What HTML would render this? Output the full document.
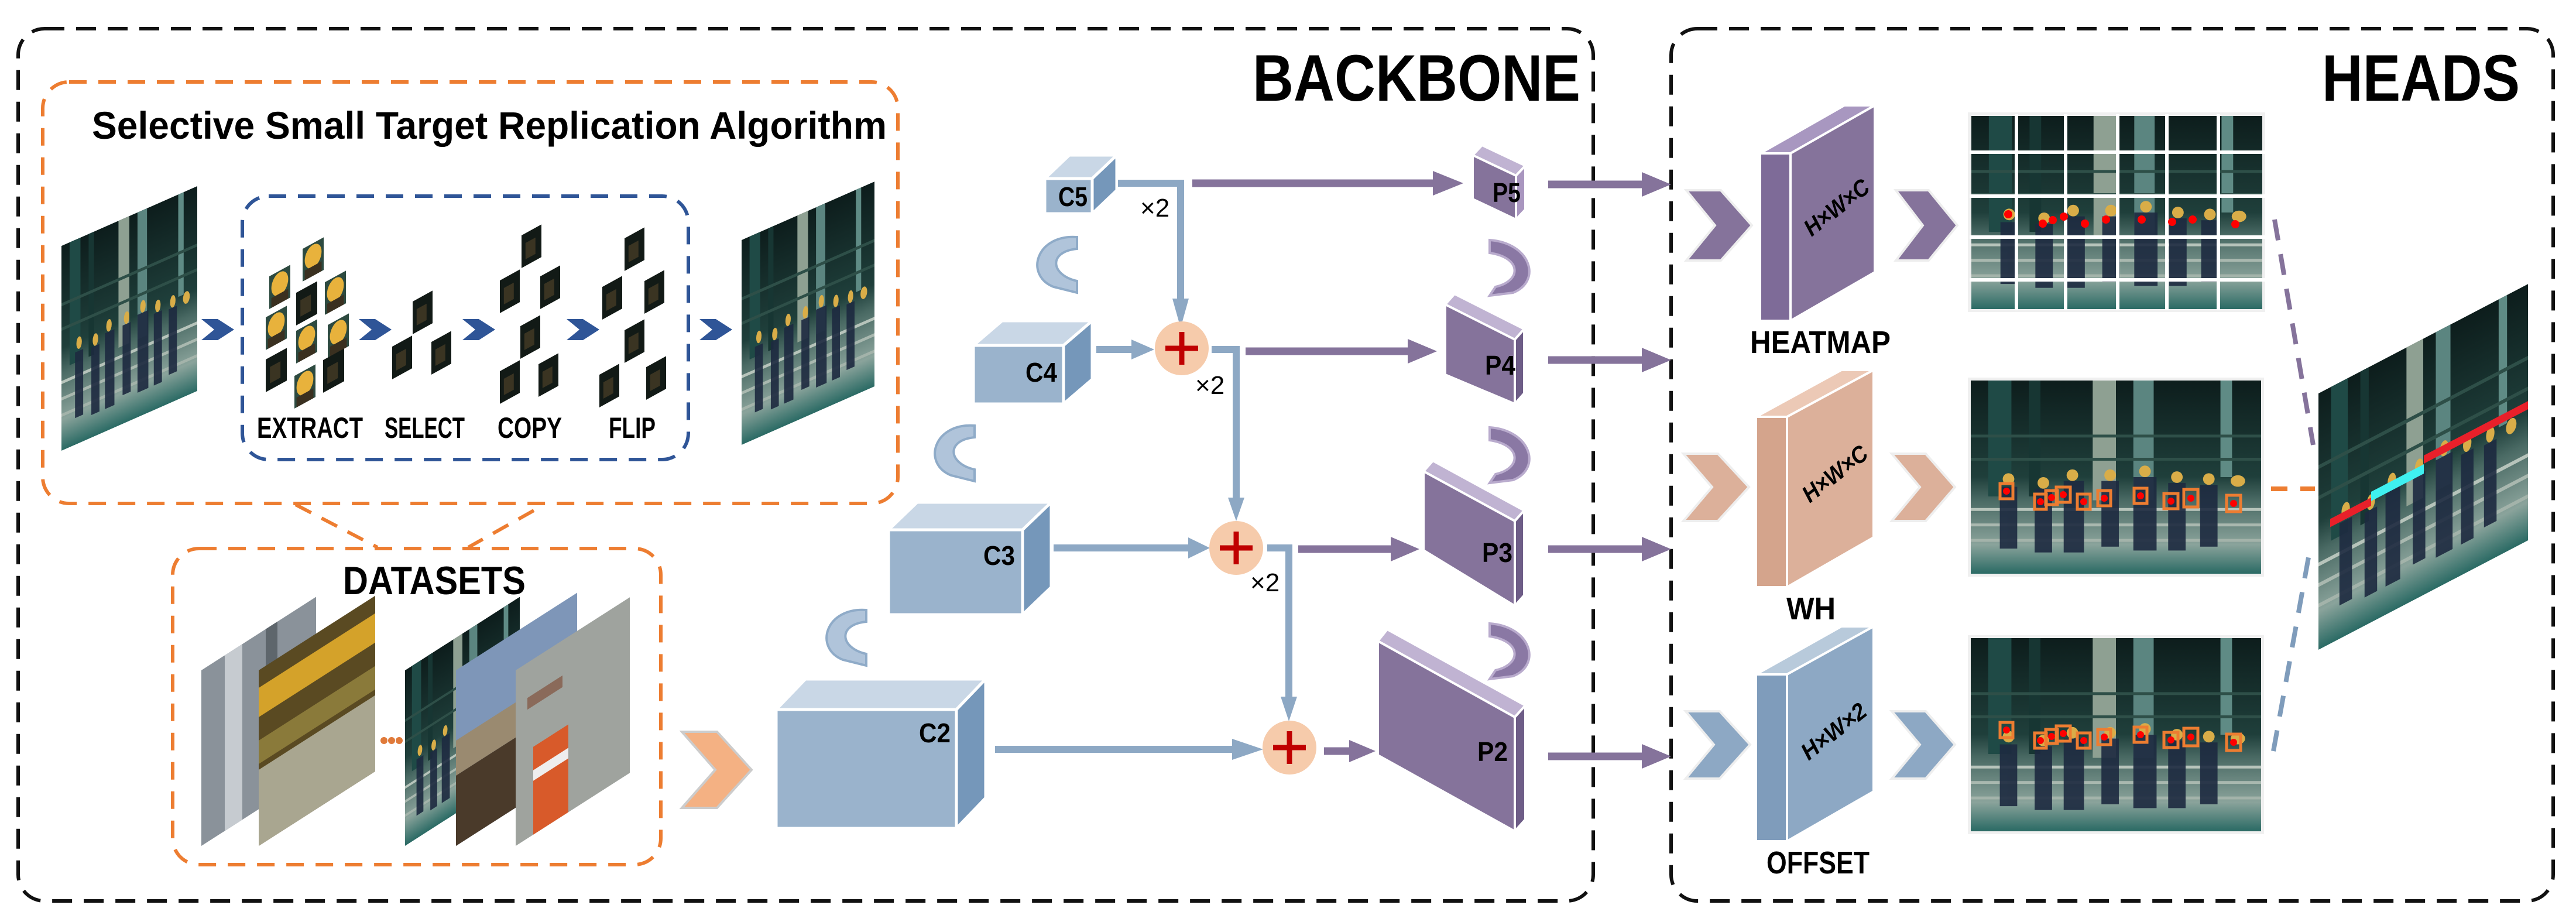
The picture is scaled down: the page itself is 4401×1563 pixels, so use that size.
<!DOCTYPE html>
<html><head><meta charset="utf-8"><style>
html,body{margin:0;padding:0;background:#fff;}
svg{display:block;}
text{font-family:"Liberation Sans",sans-serif;font-weight:bold;fill:#000;}
</style></head><body>
<svg width="4401" height="1563" viewBox="0 0 4401 1563" xmlns="http://www.w3.org/2000/svg">
<defs>
<linearGradient id="bg" x1="0" y1="0" x2="0" y2="1">
<stop offset="0" stop-color="#0d1d1c"/><stop offset="0.5" stop-color="#1f3f3b"/><stop offset="0.62" stop-color="#4a6a64"/><stop offset="0.85" stop-color="#8aa39b"/><stop offset="1" stop-color="#2a6a64"/>
</linearGradient>
<symbol id="scene" viewBox="0 0 100 100" preserveAspectRatio="none">
<rect width="100" height="100" fill="url(#bg)"/>
<rect x="6" y="0" width="8" height="60" fill="#1f4a46"/>
<rect x="20" y="0" width="4" height="60" fill="#173633"/>
<rect x="42" y="0" width="8" height="62" fill="#8ea092"/>
<rect x="56" y="0" width="7" height="62" fill="#5b8580"/>
<rect x="86" y="0" width="4" height="50" fill="#5f8b85"/>
<rect x="0" y="28" width="100" height="1.5" fill="#2e4f48"/>
<rect x="0" y="40" width="100" height="1.5" fill="#2e4f48"/>
<rect x="0" y="66" width="100" height="1.5" fill="#b7c4bb"/>
<rect x="0" y="74" width="100" height="1.5" fill="#a9b8af"/>
<rect x="0" y="82" width="100" height="1.5" fill="#a3b3aa"/>
<g fill="#1d2a40" opacity="0.9">
<rect x="10" y="55" width="6" height="32"/><rect x="22" y="56" width="6" height="33"/><rect x="32" y="52" width="7" height="37"/><rect x="45" y="52" width="6" height="34"/><rect x="56" y="50" width="8" height="38"/><rect x="68" y="53" width="6" height="35"/><rect x="79" y="54" width="6" height="32"/>
</g>
<g fill="#d9ad48">
<ellipse cx="13" cy="51" rx="2" ry="3"/><ellipse cx="25" cy="53" rx="2" ry="3"/><ellipse cx="35" cy="49" rx="2" ry="3"/><ellipse cx="48" cy="49" rx="2" ry="3"/><ellipse cx="60" cy="47" rx="2" ry="3"/><ellipse cx="71" cy="50" rx="2" ry="3"/><ellipse cx="82" cy="51" rx="2" ry="3"/><ellipse cx="92" cy="52" rx="2.5" ry="3"/>
</g>
</symbol>
<symbol id="tile" viewBox="0 0 10 10" preserveAspectRatio="none">
<rect width="10" height="10" fill="#121a16"/><rect x="2" y="3" width="5" height="5" fill="#3a3422"/>
</symbol>
<symbol id="tiley" viewBox="0 0 10 10" preserveAspectRatio="none">
<rect width="10" height="10" fill="#2d4a40"/><ellipse cx="5" cy="4" rx="4" ry="3.5" fill="#e8b23c"/><rect x="1" y="7" width="8" height="3" fill="#3a3020"/>
</symbol>
</defs>

<rect x="31" y="49" width="2691" height="1490" rx="45" fill="none" stroke="#111" stroke-width="6" stroke-dasharray="34,20"/>
<rect x="2855" y="49" width="1507" height="1490" rx="45" fill="none" stroke="#111" stroke-width="6" stroke-dasharray="34,20"/>
<text x="2700" y="172" font-size="112" text-anchor="end" textLength="560" lengthAdjust="spacingAndGlyphs">BACKBONE</text>
<text x="4305" y="172" font-size="112" text-anchor="end" textLength="338" lengthAdjust="spacingAndGlyphs">HEADS</text>

<rect x="73" y="140" width="1461" height="720" rx="45" fill="none" stroke="#ed7d31" stroke-width="6" stroke-dasharray="30,20"/>
<text x="157" y="237" font-size="66" textLength="1358" lengthAdjust="spacingAndGlyphs">Selective Small Target Replication Algorithm</text>
<rect x="414" y="335" width="762" height="450" rx="45" fill="none" stroke="#2f5597" stroke-width="6" stroke-dasharray="30,20"/>

<use href="#scene" width="232" height="350" transform="matrix(1,-0.44,0,1,105,420)"/>
<use href="#scene" width="227" height="350" transform="matrix(1,-0.44,0,1,1267,410)"/>

<g fill="#2f5597">
<polygon points="344,545 372,545 400,563 372,581 344,581 366,563"/>
<polygon points="613,545 641,545 669,563 641,581 613,581 635,563"/>
<polygon points="790,545 818,545 846,563 818,581 790,581 812,563"/>
<polygon points="968,545 996,545 1024,563 996,581 968,581 990,563"/>
<polygon points="1195,545 1223,545 1251,563 1223,581 1195,581 1217,563"/>
</g>
<g>
<use href="#tiley" width="36" height="56" transform="matrix(1,-0.55,0,1,517,425)"/>
<use href="#tiley" width="36" height="56" transform="matrix(1,-0.55,0,1,460,472)"/>
<use href="#tiley" width="36" height="56" transform="matrix(1,-0.55,0,1,555,482)"/>
<use href="#tile" width="36" height="56" transform="matrix(1,-0.55,0,1,506,500)"/>
<use href="#tiley" width="36" height="56" transform="matrix(1,-0.55,0,1,454,542)"/>
<use href="#tiley" width="36" height="56" transform="matrix(1,-0.55,0,1,506,565)"/>
<use href="#tiley" width="36" height="56" transform="matrix(1,-0.55,0,1,560,555)"/>
<use href="#tile" width="36" height="56" transform="matrix(1,-0.55,0,1,454,614)"/>
<use href="#tile" width="36" height="56" transform="matrix(1,-0.55,0,1,552,615)"/>
<use href="#tiley" width="36" height="56" transform="matrix(1,-0.55,0,1,503,642)"/>
<use href="#tile" width="34" height="56" transform="matrix(1,-0.55,0,1,705,515)"/>
<use href="#tile" width="34" height="56" transform="matrix(1,-0.55,0,1,670,592)"/>
<use href="#tile" width="34" height="56" transform="matrix(1,-0.55,0,1,737,584)"/>
<use href="#tile" width="34" height="56" transform="matrix(1,-0.55,0,1,891,402)"/>
<use href="#tile" width="34" height="56" transform="matrix(1,-0.55,0,1,854,479)"/>
<use href="#tile" width="34" height="56" transform="matrix(1,-0.55,0,1,923,472)"/>
<use href="#tile" width="34" height="56" transform="matrix(1,-0.55,0,1,889,557)"/>
<use href="#tile" width="34" height="56" transform="matrix(1,-0.55,0,1,854,634)"/>
<use href="#tile" width="34" height="56" transform="matrix(1,-0.55,0,1,920,622)"/>
<use href="#tile" width="34" height="56" transform="matrix(1,-0.55,0,1,1067,407)"/>
<use href="#tile" width="34" height="56" transform="matrix(1,-0.55,0,1,1029,490)"/>
<use href="#tile" width="34" height="56" transform="matrix(1,-0.55,0,1,1101,480)"/>
<use href="#tile" width="34" height="56" transform="matrix(1,-0.55,0,1,1067,564)"/>
<use href="#tile" width="34" height="56" transform="matrix(1,-0.55,0,1,1024,640)"/>
<use href="#tile" width="34" height="56" transform="matrix(1,-0.55,0,1,1104,627)"/>
</g>
<g font-size="50">
<text x="439" y="748" textLength="181" lengthAdjust="spacingAndGlyphs">EXTRACT</text>
<text x="657" y="748" textLength="137" lengthAdjust="spacingAndGlyphs">SELECT</text>
<text x="850" y="748" textLength="110" lengthAdjust="spacingAndGlyphs">COPY</text>
<text x="1040" y="748" textLength="80" lengthAdjust="spacingAndGlyphs">FLIP</text>
</g>

<line x1="505" y1="862" x2="645" y2="935" stroke="#ed7d31" stroke-width="6" stroke-dasharray="30,20"/>
<line x1="912" y1="872" x2="800" y2="935" stroke="#ed7d31" stroke-width="6" stroke-dasharray="30,20"/>
<rect x="295" y="937" width="834" height="540" rx="45" fill="none" stroke="#ed7d31" stroke-width="6" stroke-dasharray="30,20"/>
<text x="586" y="1015" font-size="68" textLength="312" lengthAdjust="spacingAndGlyphs">DATASETS</text>
<g transform="matrix(1,-0.64,0,1,344,1145)"><rect width="196" height="300" fill="#8a929a"/><rect x="40" y="0" width="30" height="300" fill="#c6cbd0"/><rect x="110" y="0" width="20" height="300" fill="#5e666c"/></g>
<g transform="matrix(1,-0.64,0,1,442,1145)"><rect width="199" height="300" fill="#5a4a22"/><rect y="30" width="199" height="50" fill="#d4a22a"/><rect y="120" width="199" height="40" fill="#8a7a3a"/><rect y="170" width="199" height="130" fill="#a9a690"/></g>
<g fill="#e07a3a"><circle cx="656" cy="1265" r="6"/><circle cx="669" cy="1265" r="6"/><circle cx="682" cy="1265" r="6"/></g>
<use href="#scene" width="196" height="300" transform="matrix(1,-0.64,0,1,692,1145)"/>
<g transform="matrix(1,-0.64,0,1,779,1145)"><rect width="207" height="300" fill="#7e96b8"/><rect y="120" width="207" height="60" fill="#9a8a70"/><rect y="180" width="207" height="120" fill="#4a3a2a"/></g>
<g transform="matrix(1,-0.64,0,1,881,1145)"><rect width="195" height="300" fill="#9fa39e"/><rect x="20" y="60" width="60" height="20" fill="#8a6a5a"/><rect x="30" y="150" width="60" height="150" fill="#d85a2a"/><rect x="30" y="190" width="60" height="18" fill="#eee"/></g>

<polygon points="1165,1250 1225,1250 1284,1315 1225,1380 1165,1380 1222,1315" fill="#f4b183" stroke="#ccc" stroke-width="4"/>

<g fill="#b0c4da" stroke="#8fabc8" stroke-width="4">
<path d="M1840,405 C1770,400 1750,470 1800,490 L1840,500 L1840,480 C1795,470 1790,430 1840,425 Z"/>
<path d="M1665,727 C1595,722 1575,792 1625,812 L1665,822 L1665,802 C1620,792 1615,752 1665,747 Z"/>
<path d="M1480,1042 C1410,1037 1390,1107 1440,1127 L1480,1137 L1480,1117 C1435,1107 1430,1067 1480,1062 Z"/>
</g>
<g fill="#8a78a4" stroke="#b9abcd" stroke-width="4">
<path d="M2545,410 C2615,415 2635,480 2585,500 L2545,505 L2555,490 C2600,480 2600,440 2545,432 Z"/>
<path d="M2545,730 C2615,735 2635,800 2585,820 L2545,825 L2555,810 C2600,800 2600,760 2545,752 Z"/>
<path d="M2545,1065 C2615,1070 2635,1135 2585,1155 L2545,1160 L2555,1145 C2600,1135 2600,1095 2545,1087 Z"/>
</g>

<g stroke="#fff" stroke-width="5">
<polygon points="1785,305 1827,265 1908,265 1866,305" fill="#c9d7e6"/><polygon points="1866,305 1908,265 1908,325 1866,365" fill="#7597ba"/><rect x="1785" y="305" width="81" height="60" fill="#9ab3cc"/>
<polygon points="1663,590 1712,548 1866,548 1817,590" fill="#c9d7e6"/><polygon points="1817,590 1866,548 1866,648 1817,690" fill="#7597ba"/><rect x="1663" y="590" width="154" height="100" fill="#9ab3cc"/>
<polygon points="1518,905 1567,858 1796,858 1747,905" fill="#c9d7e6"/><polygon points="1747,905 1796,858 1796,1003 1747,1050" fill="#7597ba"/><rect x="1518" y="905" width="229" height="145" fill="#9ab3cc"/>
<polygon points="1326,1212 1376,1160 1684,1160 1634,1212" fill="#c9d7e6"/><polygon points="1634,1212 1684,1160 1684,1363 1634,1415" fill="#7597ba"/><rect x="1326" y="1212" width="308" height="203" fill="#9ab3cc"/>
</g>
<g font-size="46">
<text x="1808" y="352" textLength="50" lengthAdjust="spacingAndGlyphs">C5</text>
<text x="1752" y="652" textLength="54" lengthAdjust="spacingAndGlyphs">C4</text>
<text x="1680" y="965" textLength="54" lengthAdjust="spacingAndGlyphs">C3</text>
<text x="1570" y="1268" textLength="54" lengthAdjust="spacingAndGlyphs">C2</text>
</g>

<g stroke="#8da8c4" stroke-width="12" fill="none">
<polyline points="1910,313 2017,313 2017,520"/>
<line x1="1873" y1="597" x2="1935" y2="597"/>
<polyline points="2070,597 2112,597 2112,860"/>
<line x1="1800" y1="936" x2="2035" y2="936"/>
<polyline points="2165,936 2202,936 2202,1200"/>
<line x1="1700" y1="1280" x2="2110" y2="1280"/>
</g>
<g fill="#8da8c4">
<polygon points="2003,510 2031,510 2017,560"/>
<polygon points="1933,580 1933,614 1972,597"/>
<polygon points="2098,850 2126,850 2112,890"/>
<polygon points="2030,918 2030,954 2067,936"/>
<polygon points="2188,1190 2216,1190 2202,1232"/>
<polygon points="2105,1262 2105,1298 2158,1280"/>
</g>
<g>
<circle cx="2019" cy="595" r="46" fill="#f6cbab"/><circle cx="2112" cy="936" r="46" fill="#f6cbab"/><circle cx="2203" cy="1277" r="46" fill="#f6cbab"/>
<g stroke="#c00000" stroke-width="9">
<line x1="1991" y1="595" x2="2047" y2="595"/><line x1="2019" y1="567" x2="2019" y2="623"/>
<line x1="2084" y1="936" x2="2140" y2="936"/><line x1="2112" y1="908" x2="2112" y2="964"/>
<line x1="2175" y1="1277" x2="2231" y2="1277"/><line x1="2203" y1="1249" x2="2203" y2="1305"/>
</g>
</g>
<g font-size="44">
<text x="1948" y="370" style="font-weight:normal">×2</text>
<text x="2042" y="673" style="font-weight:normal">×2</text>
<text x="2136" y="1010" style="font-weight:normal">×2</text>
</g>

<g stroke="#85739b" stroke-width="13" fill="none">
<line x1="2037" y1="313" x2="2450" y2="313"/>
<line x1="2128" y1="600" x2="2410" y2="600"/>
<line x1="2218" y1="938" x2="2380" y2="938"/>
<line x1="2262" y1="1283" x2="2310" y2="1283"/>
<line x1="2645" y1="315" x2="2810" y2="315"/>
<line x1="2645" y1="615" x2="2810" y2="615"/>
<line x1="2645" y1="938" x2="2810" y2="938"/>
<line x1="2645" y1="1292" x2="2810" y2="1292"/>
</g>
<g fill="#85739b">
<polygon points="2448,292 2448,334 2500,313"/>
<polygon points="2405,579 2405,621 2455,600"/>
<polygon points="2376,917 2376,959 2425,938"/>
<polygon points="2305,1264 2305,1302 2350,1283"/>
<polygon points="2805,294 2805,336 2855,315"/>
<polygon points="2805,594 2805,636 2855,615"/>
<polygon points="2805,917 2805,959 2855,938"/>
<polygon points="2805,1271 2805,1313 2855,1292"/>
</g>

<g stroke="#fff" stroke-width="4">
<polygon points="2516,265 2532,248 2606,283 2590,300" fill="#c0b3d2"/><polygon points="2590,300 2606,283 2606,358 2590,375" fill="#a996bf"/><polygon points="2516,265 2590,300 2590,375 2516,340" fill="#85739b"/>
<polygon points="2469,520 2485,502 2604,562 2588,580" fill="#c0b3d2"/><polygon points="2588,580 2604,562 2604,672 2588,690" fill="#6e5d87"/><polygon points="2469,520 2588,580 2588,690 2469,640" fill="#85739b"/>
<polygon points="2432,805 2448,787 2604,872 2588,890" fill="#c0b3d2"/><polygon points="2588,890 2604,872 2604,1017 2588,1035" fill="#6e5d87"/><polygon points="2432,805 2588,890 2588,1035 2432,940" fill="#85739b"/>
<polygon points="2354,1095 2370,1075 2606,1205 2588,1225" fill="#c0b3d2"/><polygon points="2588,1225 2606,1205 2606,1400 2588,1420" fill="#6e5d87"/><polygon points="2354,1095 2588,1225 2588,1420 2354,1290" fill="#85739b"/>
</g>
<g font-size="46">
<text x="2550" y="345" textLength="48" lengthAdjust="spacingAndGlyphs">P5</text>
<text x="2537" y="640" textLength="52" lengthAdjust="spacingAndGlyphs">P4</text>
<text x="2532" y="960" textLength="52" lengthAdjust="spacingAndGlyphs">P3</text>
<text x="2524" y="1300" textLength="52" lengthAdjust="spacingAndGlyphs">P2</text>
</g>

<g stroke="#eee" stroke-width="4">
<polygon points="2881,325 2940,325 2993,385 2940,445 2881,445 2930,385" fill="#85739b"/>
<polygon points="3239,325 3295,325 3344,385 3295,445 3239,445 3285,385" fill="#85739b"/>
<polygon points="2876,775 2935,775 2988,832 2935,890 2876,890 2925,832" fill="#dcb09a"/>
<polygon points="3232,775 3290,775 3340,832 3290,890 3232,890 3280,832" fill="#dcb09a"/>
<polygon points="2880,1215 2938,1215 2990,1272 2938,1330 2880,1330 2928,1272" fill="#8da8c4"/>
<polygon points="3232,1215 3290,1215 3340,1272 3290,1330 3232,1330 3280,1272" fill="#8da8c4"/>
</g>
<g stroke="#fff" stroke-width="4">
<polygon points="3007,262 3151,180 3203,180 3059,262" fill="#a897c0"/><rect x="3007" y="262" width="52" height="286" fill="#7e6b98"/><polygon points="3059,262 3203,180 3203,465 3059,548" fill="#85739b"/>
<polygon points="3000,712 3146,632 3201,632 3053,712" fill="#ecc9b6"/><rect x="3000" y="712" width="53" height="291" fill="#d4a48c"/><polygon points="3053,712 3201,632 3201,918 3053,1003" fill="#dcb09a"/>
<polygon points="3000,1152 3146,1070 3201,1070 3053,1152" fill="#b8cadb"/><rect x="3000" y="1152" width="53" height="285" fill="#7f9cbb"/><polygon points="3053,1152 3201,1070 3201,1352 3053,1437" fill="#8da8c4"/>
</g>
<g font-size="40" font-style="italic">
<text transform="translate(3095,405) rotate(-38)" textLength="130" lengthAdjust="spacingAndGlyphs">H×W×C</text>
<text transform="translate(3092,860) rotate(-38)" textLength="130" lengthAdjust="spacingAndGlyphs">H×W×C</text>
<text transform="translate(3090,1300) rotate(-38)" textLength="130" lengthAdjust="spacingAndGlyphs">H×W×2</text>
</g>
<g font-size="54">
<text x="2990" y="603" textLength="240" lengthAdjust="spacingAndGlyphs">HEATMAP</text>
<text x="3052" y="1058" textLength="84" lengthAdjust="spacingAndGlyphs">WH</text>
<text x="3018" y="1492" textLength="176" lengthAdjust="spacingAndGlyphs">OFFSET</text>
</g>

<rect x="3362" y="192" width="508" height="341" fill="#f0f0f0"/>
<use href="#scene" x="3368" y="198" width="497" height="330"/>
<g stroke="#fff" stroke-width="6">
<line x1="3445" y1="195" x2="3445" y2="530"/><line x1="3529" y1="195" x2="3529" y2="530"/><line x1="3618" y1="195" x2="3618" y2="530"/><line x1="3702" y1="195" x2="3702" y2="530"/><line x1="3790" y1="195" x2="3790" y2="530"/>
<line x1="3365" y1="260" x2="3870" y2="260"/><line x1="3365" y1="335" x2="3870" y2="335"/><line x1="3365" y1="405" x2="3870" y2="405"/><line x1="3365" y1="478" x2="3870" y2="478"/>
</g>
<g fill="#ff0000">
<circle cx="3431" cy="366" r="7"/><circle cx="3490" cy="382" r="7"/><circle cx="3507" cy="376" r="7"/><circle cx="3526" cy="370" r="7"/><circle cx="3562" cy="382" r="7"/><circle cx="3598" cy="375" r="7"/><circle cx="3659" cy="375" r="7"/><circle cx="3711" cy="379" r="7"/><circle cx="3746" cy="375" r="7"/><circle cx="3819" cy="383" r="7"/>
</g>
<rect x="3362" y="645" width="506" height="340" fill="#f0f0f0"/>
<use href="#scene" x="3367" y="650" width="496" height="330"/>
<g fill="none" stroke="#ed7d31" stroke-width="5">
<rect x="3417" y="826" width="22" height="26"/><rect x="3476" y="844" width="20" height="26"/><rect x="3495" y="838" width="20" height="24"/><rect x="3513" y="832" width="24" height="26"/><rect x="3549" y="844" width="22" height="26"/><rect x="3584" y="838" width="22" height="26"/><rect x="3646" y="834" width="22" height="26"/><rect x="3697" y="843" width="24" height="26"/><rect x="3731" y="836" width="24" height="30"/><rect x="3804" y="846" width="24" height="28"/>
</g>
<g fill="#ff0000">
<circle cx="3428" cy="839" r="6"/><circle cx="3486" cy="857" r="6"/><circle cx="3505" cy="850" r="6"/><circle cx="3525" cy="845" r="6"/><circle cx="3560" cy="857" r="6"/><circle cx="3595" cy="851" r="6"/><circle cx="3657" cy="847" r="6"/><circle cx="3709" cy="856" r="6"/><circle cx="3743" cy="851" r="6"/><circle cx="3816" cy="860" r="6"/>
</g>
<rect x="3362" y="1085" width="506" height="340" fill="#f0f0f0"/>
<use href="#scene" x="3367" y="1090" width="496" height="330"/>
<g fill="none" stroke="#ed7d31" stroke-width="5">
<rect x="3417" y="1234" width="22" height="26"/><rect x="3476" y="1252" width="20" height="26"/><rect x="3495" y="1246" width="20" height="24"/><rect x="3513" y="1240" width="24" height="26"/><rect x="3549" y="1252" width="22" height="26"/><rect x="3584" y="1246" width="22" height="26"/><rect x="3646" y="1242" width="22" height="26"/><rect x="3697" y="1251" width="24" height="26"/><rect x="3731" y="1244" width="24" height="30"/><rect x="3804" y="1254" width="24" height="28"/>
</g>
<g fill="#ff0000">
<circle cx="3428" cy="1247" r="6"/><circle cx="3486" cy="1265" r="6"/><circle cx="3505" cy="1258" r="6"/><circle cx="3525" cy="1253" r="6"/><circle cx="3560" cy="1265" r="6"/><circle cx="3595" cy="1259" r="6"/><circle cx="3657" cy="1255" r="6"/><circle cx="3709" cy="1264" r="6"/><circle cx="3743" cy="1259" r="6"/><circle cx="3816" cy="1268" r="6"/>
</g>

<use href="#scene" width="358" height="438" transform="matrix(1,-0.522,0,1,3961,672)"/>
<g transform="matrix(1,-0.522,0,1,3961,672)">
<rect x="20" y="225" width="70" height="14" fill="#e8202a"/><rect x="90" y="215" width="90" height="16" fill="#3ff0f0"/><rect x="180" y="200" width="178" height="14" fill="#e8202a"/>
</g>

<line x1="3886" y1="375" x2="3952" y2="760" stroke="#85739b" stroke-width="8" stroke-dasharray="36,24"/>
<line x1="3880" y1="835" x2="3955" y2="835" stroke="#ed7d31" stroke-width="8" stroke-dasharray="28,22"/>
<line x1="3884" y1="1283" x2="3948" y2="930" stroke="#7f9cbb" stroke-width="8" stroke-dasharray="36,24"/>
</svg>
</body></html>
